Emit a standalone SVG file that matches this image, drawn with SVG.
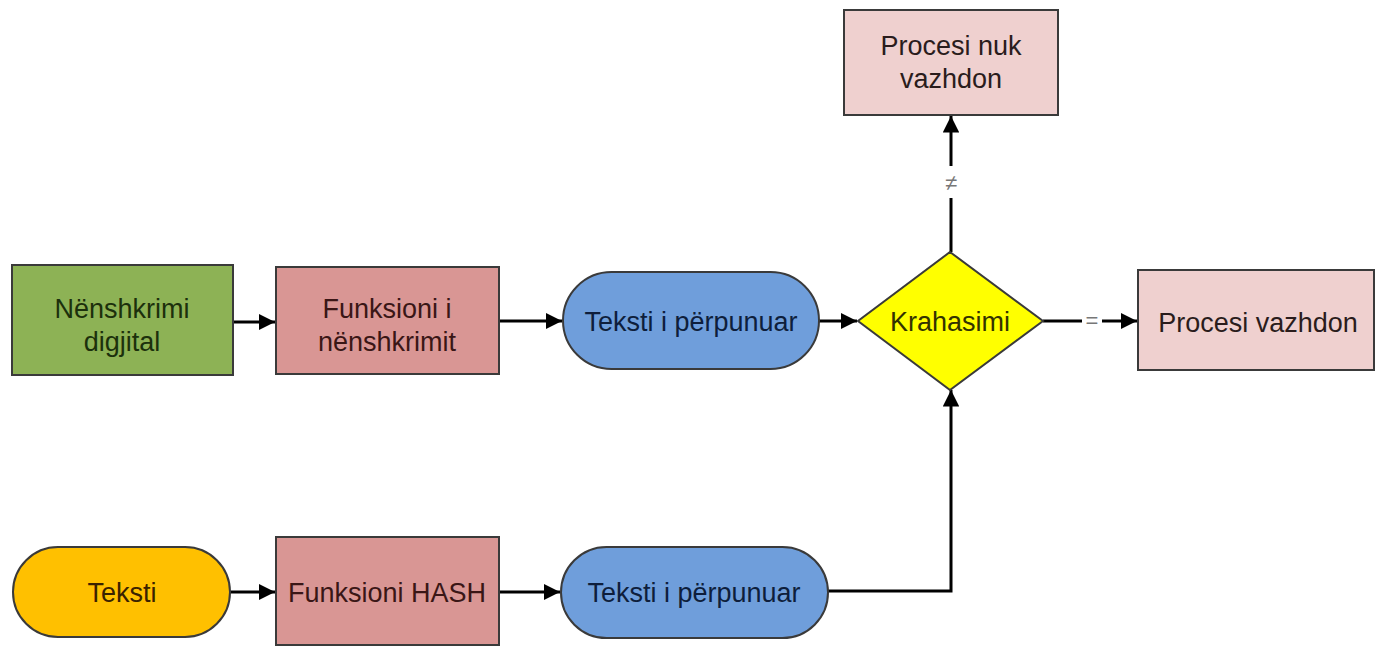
<svg xmlns="http://www.w3.org/2000/svg" width="1375" height="646" viewBox="0 0 1375 646">
  <style>
    .box { stroke: #3a3a3a; stroke-width: 2; }
    .lbl { font-family: "Liberation Sans", Arial, sans-serif; font-size: 27px; text-anchor: middle; }
    .edge { fill: none; stroke: #000; stroke-width: 3; }
    .elbl { font-family: "Liberation Sans", Arial, sans-serif; font-size: 22px; fill: #777; text-anchor: middle; }
  </style>
  <defs>
    <marker id="arrow" viewBox="0 0 10 10" refX="10" refY="5" markerWidth="5.5" markerHeight="5.5" markerUnits="strokeWidth" orient="auto">
      <path d="M0,0 L10,5 L0,10 z" fill="#000"/>
    </marker>
  </defs>
  <rect width="1375" height="646" fill="#fff"/>

  <!-- connectors -->
  <g id="connectors">
    <line class="edge" x1="233" y1="322" x2="275" y2="322" marker-end="url(#arrow)"/>
    <line class="edge" x1="499" y1="321" x2="562" y2="321" marker-end="url(#arrow)"/>
    <line class="edge" x1="819" y1="321" x2="857" y2="321" marker-end="url(#arrow)"/>
    <line class="edge" x1="1043" y1="321" x2="1082" y2="321"/>
    <line class="edge" x1="1102" y1="321" x2="1137" y2="321" marker-end="url(#arrow)"/>
    <text class="elbl" x="1092" y="328">=</text>
    <line class="edge" x1="951" y1="252" x2="951" y2="198"/>
    <line class="edge" x1="951" y1="166" x2="951" y2="116" marker-end="url(#arrow)"/>
    <text class="elbl" x="951" y="190">≠</text>
    <line class="edge" x1="230" y1="592" x2="275" y2="592" marker-end="url(#arrow)"/>
    <line class="edge" x1="499" y1="592" x2="560" y2="592" marker-end="url(#arrow)"/>
    <polyline class="edge" points="828,591 951,591 951,390" marker-end="url(#arrow)"/>
  </g>

  <!-- top row -->
  <g id="nenshkrimi-digjital">
    <rect class="box" x="12" y="265" width="221" height="110" fill="#8db255"/>
    <text class="lbl" fill="#1c300c"><tspan x="122" y="318">Nënshkrimi</tspan><tspan x="122" y="351">digjital</tspan></text>
  </g>
  <g id="funksioni-nenshkrimit">
    <rect class="box" x="276" y="267" width="223" height="107" fill="#d99694"/>
    <text class="lbl" fill="#3a1616"><tspan x="387" y="318">Funksioni i</tspan><tspan x="387" y="351">nënshkrimit</tspan></text>
  </g>
  <g id="teksti-perpunuar-1">
    <rect class="box" x="563" y="272" width="256" height="97" rx="48.5" fill="#6f9edb"/>
    <text class="lbl" x="691" y="331" fill="#0e1e3c">Teksti i përpunuar</text>
  </g>
  <g id="krahasimi">
    <polygon class="box" points="950,252 1043,321 950,390 858,321" fill="#ffff00"/>
    <text class="lbl" x="950" y="331" fill="#333300">Krahasimi</text>
  </g>
  <g id="procesi-vazhdon">
    <rect class="box" x="1138" y="270" width="236" height="100" fill="#efd0cf"/>
    <text class="lbl" x="1258" y="332" fill="#2a1c1c">Procesi vazhdon</text>
  </g>
  <g id="procesi-nuk-vazhdon">
    <rect class="box" x="844" y="10" width="214" height="105" fill="#efd0cf"/>
    <text class="lbl" fill="#2a1c1c"><tspan x="951" y="55">Procesi nuk</tspan><tspan x="951" y="88">vazhdon</tspan></text>
  </g>

  <!-- bottom row -->
  <g id="teksti">
    <rect class="box" x="13" y="547" width="217" height="90" rx="45" fill="#ffc000"/>
    <text class="lbl" x="122" y="602" fill="#3a2200">Teksti</text>
  </g>
  <g id="funksioni-hash">
    <rect class="box" x="276" y="537" width="223" height="108" fill="#d99694"/>
    <text class="lbl" x="387" y="602" fill="#3a1616">Funksioni HASH</text>
  </g>
  <g id="teksti-perpunuar-2">
    <rect class="box" x="561" y="547" width="267" height="91" rx="45.5" fill="#6f9edb"/>
    <text class="lbl" x="694" y="602" fill="#0e1e3c">Teksti i përpunuar</text>
  </g>
</svg>
